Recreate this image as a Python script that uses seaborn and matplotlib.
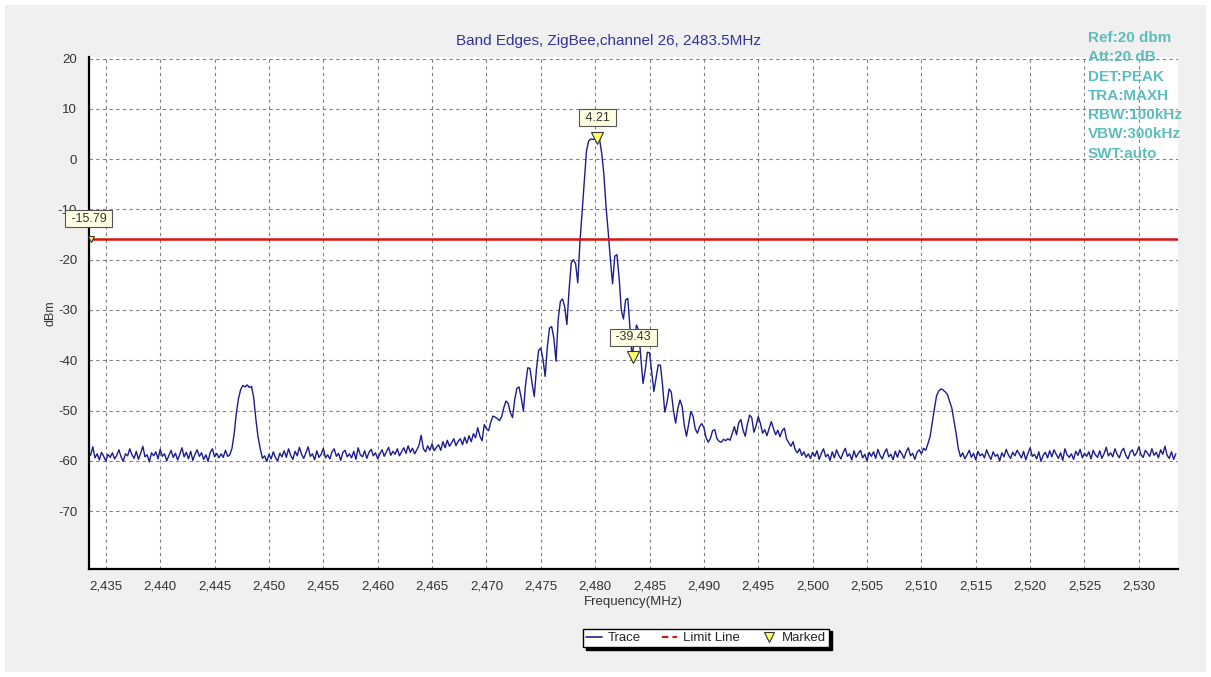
import matplotlib
matplotlib.use("Agg")
import matplotlib.pyplot as plt
import matplotlib.ticker as mticker
from matplotlib.lines import Line2D
from matplotlib.patches import Rectangle
import numpy as np
import pandas as pd
import seaborn as sns

### DATA ###
# max-hold trace, one value every 0.2 MHz from 2433.6 MHz
start_mhz = 2433.6
step_mhz = 0.2
level_dbm = [
    -58.9, -57.2, -59.4, -58.6, -59.8, -58.3, -59.1, -60.0, -58.7, -59.3,  # 2433.6
    -58.4, -59.6, -58.9, -57.8, -59.2, -60.1, -58.6, -59.0, -57.6, -58.8,  # 2435.6
    -59.5, -58.1, -59.7, -58.5, -57.1, -59.2, -58.8, -60.2, -58.4, -59.0,  # 2437.6
    -58.2, -59.6, -57.7, -59.1, -58.6, -60.0, -58.9, -57.9, -59.3, -58.5,  # 2439.6
    -59.8, -58.7, -57.4, -59.2, -58.3, -59.6, -58.1, -59.9, -58.7, -57.8,  # 2441.6
    -59.1, -58.4, -59.7, -58.8, -60.1, -58.3, -57.6, -59.2, -58.5, -59.4,  # 2443.6
    -58.6, -59.3, -57.9, -59.1, -58.8, -57.5, -54.6, -50.5, -47.6, -45.8,  # 2445.6
    -45.0, -45.3, -44.9, -45.4, -45.2, -47.5, -51.8, -55.3, -57.6, -59.5,  # 2447.6
    -59.0, -60.1, -58.7, -59.6, -58.2, -59.4, -60.0, -58.5, -59.2, -58.0,  # 2449.6
    -59.3, -57.6, -58.9, -59.7, -58.1, -59.0, -57.3, -58.7, -59.5, -58.4,  # 2451.6
    -57.2, -59.1, -58.6, -59.8, -58.0, -59.3, -58.7, -57.5, -59.4, -58.8,  # 2453.6
    -59.6, -58.2, -57.6, -59.1, -58.5, -59.9, -58.3, -57.9, -59.2, -58.6,  # 2455.6
    -59.4, -58.1, -59.7, -57.4, -58.8, -59.2, -58.0, -59.5, -58.3, -57.7,  # 2457.6
    -59.0, -58.4, -59.6, -58.6, -57.8, -59.1, -58.2, -57.3, -58.9, -58.1,  # 2459.6
    -58.7, -57.6, -59.0, -58.2, -57.4, -58.5, -57.0, -58.3, -57.5, -58.6,  # 2461.6
    -57.8, -56.9, -54.9, -57.6, -58.2, -57.0, -57.9, -56.6, -58.0, -57.3,  # 2463.6
    -56.8, -57.9, -56.2, -57.4, -55.9, -57.1, -56.4, -55.6, -57.0, -56.1,  # 2465.6
    -55.6, -56.8, -55.3, -56.5, -55.0, -56.2, -54.6, -55.4, -53.4, -55.1,  # 2467.6
    -56.0, -52.8, -53.6, -54.0, -52.3, -51.1, -51.3, -51.6, -52.0, -51.2,  # 2469.6
    -49.4, -48.1, -48.6, -50.4, -51.4, -47.8, -45.6, -45.3, -47.5, -50.1,  # 2471.6
    -44.8, -41.5, -41.6, -44.6, -47.2, -41.8, -38.0, -37.6, -39.8, -43.2,  # 2473.6
    -37.4, -33.6, -33.3, -35.6, -40.2, -31.8, -28.3, -27.8, -29.4, -32.9,  # 2475.6
    -26.0, -20.6, -20.0, -20.8, -24.6, -16.5, -10.5, -4.8, 1.6, 3.6,       # 2477.6
    4.0, 3.9, 4.1, 4.21, 4.0, 1.2, -3.0, -9.5, -14.5, -20.0,               # 2479.6
    -24.8, -19.3, -19.0, -23.5, -30.0, -31.8, -28.0, -27.7, -33.5, -39.4,  # 2481.6
    -36.0, -33.0, -34.0, -39.5, -44.6, -42.0, -38.4, -38.5, -42.3, -46.2,  # 2483.6
    -43.5, -40.9, -41.0, -45.0, -50.3, -48.5, -45.7, -46.3, -50.0, -52.5,  # 2485.6
    -49.6, -47.9, -49.2, -53.0, -55.1, -52.6, -50.2, -51.1, -53.6, -54.5,  # 2487.6
    -53.2, -52.6, -53.4, -55.4, -56.3, -55.5, -54.0, -53.8, -55.6, -56.1,  # 2489.6
    -56.3, -55.7, -56.0, -55.6, -55.9, -54.6, -53.2, -54.8, -52.4, -51.8,  # 2491.6
    -53.9, -55.1, -52.7, -50.9, -51.4, -54.3, -53.0, -51.2, -52.6, -54.5,  # 2493.6
    -53.8, -55.0, -53.5, -52.2, -53.6, -54.8, -53.9, -55.2, -54.0, -53.5,  # 2495.6
    -55.6, -56.4, -57.1, -56.2, -57.8, -58.4, -57.6, -58.9, -58.2, -59.3,  # 2497.6
    -58.6, -59.5, -58.3, -59.1, -58.0, -59.7, -58.5, -57.6, -59.2, -58.7,  # 2499.6
    -59.9, -58.2, -59.4, -57.8, -58.9, -59.6, -58.4, -57.5, -59.1, -58.6,  # 2501.6
    -59.8, -58.0, -59.3, -58.5, -57.9, -59.4, -58.7, -60.0, -58.3, -59.1,  # 2503.6
    -58.2, -59.5, -57.7, -58.9, -59.6, -58.4, -57.6, -59.2, -58.7, -59.8,  # 2505.6
    -58.1, -59.3, -57.9, -58.6, -59.5, -58.2, -57.4, -59.0, -58.5, -59.7,  # 2507.6
    -58.3, -57.8, -58.6, -57.5, -57.9, -56.6, -55.2, -52.4, -49.6, -47.0,  # 2509.6
    -46.1, -45.7, -45.9, -46.3, -46.8, -48.2, -49.5, -52.0, -54.6, -57.6,  # 2511.6
    -59.2, -58.4, -59.6, -58.8, -57.9, -59.3, -58.5, -59.8, -58.1, -59.0,  # 2513.6
    -58.6, -59.4, -57.8, -58.9, -59.7, -58.2, -59.1, -58.7, -60.0, -58.4,  # 2515.6
    -59.2, -57.7, -58.8, -59.5, -58.3, -59.0, -57.9, -58.6, -59.4, -58.1,  # 2517.6
    -59.8, -58.5, -57.4, -59.1, -58.7, -59.6, -58.2, -60.1, -58.9, -58.3,  # 2519.6
    -59.4, -58.0, -59.2, -57.8, -58.7, -59.5, -58.4, -59.9, -57.6, -58.8,  # 2521.6
    -59.3, -58.6, -59.7, -58.1, -58.9, -57.7, -59.4, -58.5, -59.1, -58.2,  # 2523.6
    -59.6, -57.9, -58.8, -59.3, -58.0, -59.5, -58.6, -57.3, -59.0, -58.4,  # 2525.6
    -59.2, -57.6, -58.7, -59.4, -58.1, -57.5, -58.9, -59.6, -58.3, -57.8,  # 2527.6
    -59.0, -58.4, -57.2, -58.8, -59.3, -57.9, -58.5, -59.1, -57.6, -58.9,  # 2529.6
    -58.3, -59.4, -57.8, -58.7, -57.1, -58.9, -59.5, -58.2, -59.7, -58.6,  # 2531.6
]
limit_dbm = -15.79
marker_mhz = [2433.6, 2480.2, 2483.5]
marker_dbm = [-15.79, 4.21, -39.43]
marker_text = ['-15.79', '4.21', '-39.43']
x_ticks = list(range(2435, 2531, 5))
y_ticks = list(range(-70, 21, 10))
settings = ['Ref:20 dbm', 'Att:20 dB', 'DET:PEAK', 'TRA:MAXH',
            'RBW:100kHz', 'VBW:300kHz', 'SWT:auto']
title = 'Band Edges, ZigBee,channel 26, 2483.5MHz'
legend_labels = ['Trace', 'Limit Line', 'Marked']

freq_mhz = start_mhz + step_mhz * np.arange(len(level_dbm))
df = pd.DataFrame({'freq': freq_mhz, 'level': level_dbm})

### PLOT ###
sns.set_style('white')
plt.rcParams['font.family'] = ['Liberation Sans', 'DejaVu Sans']
plt.rcParams['axes.unicode_minus'] = False

W, H = 1211, 677
fig = plt.figure(figsize=(W / 100, H / 100), dpi=100, facecolor='white')
fig.patches.append(Rectangle((5 / W, 5 / H), 1201 / W, 667 / H, transform=fig.transFigure,
                             facecolor='#f0f0f0', edgecolor='none', zorder=-10))
ax = fig.add_axes([89 / W, 108 / H, 1089 / W, 512 / H])
ax.set_facecolor('white')

trace_col = '#1c1c8c'
sns.lineplot(data=df, x='freq', y='level', ax=ax, color=trace_col, linewidth=1.0,
             errorbar=None, legend=False, zorder=3)
ax.axhline(limit_dbm, color='#dd1111', linewidth=1.8, zorder=4)

for i, (f, v, t) in enumerate(zip(marker_mhz, marker_dbm, marker_text)):
  ax.plot([f], [v], marker='v', markersize=5 if i == 0 else 8, color='#ffff66',
          markeredgecolor='#333333', markeredgewidth=0.8, zorder=6, clip_on=False)
  ax.annotate(f' {t} ', xy=(f, v), xytext=(-2 if i == 0 else 0, 20), textcoords='offset pixels',
              ha='center', va='center', fontsize=9, color='#333333', zorder=7,
              bbox=dict(boxstyle='square,pad=0.2', fc='#ffffe1', ec='#555555', lw=0.8),
              annotation_clip=False)

ax.set_xlim(2433.45, 2533.6)
ax.set_ylim(-81.5, 20.3)
ax.set_xticks(x_ticks)
ax.set_yticks(y_ticks)
ax.xaxis.set_minor_locator(mticker.MultipleLocator(1))
ax.xaxis.set_major_formatter(mticker.FuncFormatter(lambda v, p: f'{v / 1000:.3f}'.replace('.', ',')))
ax.tick_params(axis='both', which='major', direction='out', length=5, width=1,
               color='black', labelsize=9.5, labelcolor='#333333')
ax.tick_params(axis='x', which='minor', direction='out', length=3, width=0.8, color='black')
ax.grid(True, which='major', linestyle=(0, (3, 3)), color='#808080', linewidth=0.8)
ax.set_axisbelow(True)
for s in ['top', 'right']:
  ax.spines[s].set_visible(False)
for s in ['left', 'bottom']:
  ax.spines[s].set_color('black')
  ax.spines[s].set_linewidth(1.6)

ax.set_xlabel('Frequency(MHz)', fontsize=9.5, color='#333333', labelpad=2)
ax.set_ylabel('dBm', fontsize=9, color='#333333', labelpad=1)

fig.text(609 / W, 1 - 41 / H, title, ha='center', va='center', fontsize=11, color='#333399')
for i, s in enumerate(settings):
  fig.text(1088 / W, 1 - (38 + 19.3 * i) / H, s, ha='left', va='center', fontsize=11,
           color='#5fbcbc', fontweight='bold')

handles = [Line2D([], [], color=trace_col, linewidth=1.2),
           Line2D([], [], color='#dd1111', linewidth=1.5, linestyle=(0, (3, 2))),
           Line2D([], [], linestyle='none', marker='v', markersize=7, color='#ffff66',
                  markeredgecolor='#333333', markeredgewidth=0.8)]
fig.legend(handles, legend_labels, loc='center', bbox_to_anchor=(706 / W, 1 - 638 / H), ncol=3,
           fontsize=9.5, frameon=True, fancybox=False, edgecolor='black', facecolor='white',
           framealpha=1, shadow={'color': 'black', 'alpha': 1}, handlelength=1.2,
           handletextpad=0.4, columnspacing=1.6, borderpad=0.25)

fig.savefig('out.png', dpi=100, facecolor=fig.get_facecolor())
